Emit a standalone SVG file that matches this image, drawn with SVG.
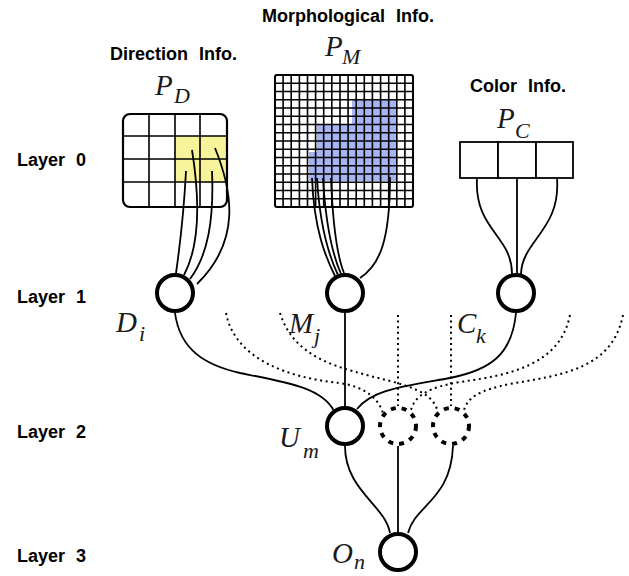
<svg xmlns="http://www.w3.org/2000/svg" width="629" height="576" viewBox="0 0 629 576">
<style>
.lbl{font-family:"Liberation Sans",Arial,sans-serif;font-weight:bold;font-size:18px;word-spacing:6px;fill:#000}
.m{font-family:"Liberation Serif","Times New Roman",serif;font-style:italic;font-size:29px;fill:#1a1a1a}
.s{font-family:"Liberation Serif","Times New Roman",serif;font-style:italic;font-size:22px;fill:#1a1a1a}
.node{fill:#fff;stroke:#000;stroke-width:4}
.dnode{fill:none;stroke:#000;stroke-width:4;stroke-dasharray:5 6}
.c{fill:none;stroke:#000;stroke-width:1.8}
.d{fill:none;stroke:#000;stroke-width:2;stroke-dasharray:2 3.6}
.g{fill:none;stroke:#000;stroke-width:1.6}
</style>
<rect width="629" height="576" fill="#fff"/>

<g id="layer-labels">
<text class="lbl" x="17" y="166">Layer 0</text>
<text class="lbl" x="17" y="303">Layer 1</text>
<text class="lbl" x="17" y="438">Layer 2</text>
<text class="lbl" x="17" y="562">Layer 3</text>
</g>

<g id="PD">
<text class="lbl" x="110" y="60">Direction Info.</text>
<text class="m" x="155" y="95">P</text><text class="s" x="174" y="103">D</text>
<rect x="175" y="136" width="52" height="46" fill="#f7f39a"/>
<rect x="123" y="114" width="104" height="93" rx="7" fill="none" stroke="#000" stroke-width="2.2"/>
<path class="g" d="M149,114V207M175,114V207M200,114V207M123,136H227M123,159H227M123,182H227" stroke-width="2"/>
</g>

<g id="PM">
<text class="lbl" x="262" y="22">Morphological Info.</text>
<text class="m" x="325" y="56">P</text><text class="s" x="342" y="64">M</text>
<path d="M352,100H396V181H309V152H317V125H352Z" fill="#a6b5f2"/>
<path class="g" d="M283.1,75V207M291.2,75V207M299.4,75V207M307.5,75V207M315.6,75V207M323.7,75V207M331.8,75V207M340,75V207M348.1,75V207M356.2,75V207M364.3,75V207M372.4,75V207M380.6,75V207M388.7,75V207M396.8,75V207M404.9,75V207M275,83.25H413M275,91.5H413M275,99.75H413M275,108H413M275,116.25H413M275,124.5H413M275,132.75H413M275,141H413M275,149.25H413M275,157.5H413M275,165.75H413M275,174H413M275,182.25H413M275,190.5H413M275,198.75H413"/>
<rect x="275" y="75" width="138" height="132" rx="2" fill="none" stroke="#000" stroke-width="2"/>
</g>

<g id="PC">
<text class="lbl" x="470" y="92">Color Info.</text>
<text class="m" x="497" y="128">P</text><text class="s" x="515" y="138">C</text>
<rect x="460" y="142" width="38" height="36" fill="#fff" stroke="#000" stroke-width="1.8"/>
<rect x="498" y="142" width="38" height="36" fill="#fff" stroke="#000" stroke-width="1.8"/>
<rect x="536" y="142" width="37" height="36" fill="#fff" stroke="#000" stroke-width="1.8"/>
</g>

<g id="connectors">
<path class="c" d="M186,171C184,210 180,245 176,273"/>
<path class="c" d="M192,150C200,200 200,245 184,275"/>
<path class="c" d="M212,171C214,220 208,255 190,279"/>
<path class="c" d="M215,148C232,190 242,240 197,284"/>
<path class="c" d="M312,178C314,230 326,258 335,276"/>
<path class="c" d="M317,178C320,230 330,258 338,275"/>
<path class="c" d="M323,178C326,230 334,258 341,274"/>
<path class="c" d="M331,178C333,230 338,258 344,273"/>
<path class="c" d="M390,177C390,240 380,265 360,278"/>
<path class="c" d="M477,178C474,230 512,235 512,274"/>
<path class="c" d="M517,178V273"/>
<path class="c" d="M557,178C561,230 522,240 521,274"/>
<path class="c" d="M175,313C180,350 205,365 240,373C290,383 322,388 334,411"/>
<path class="c" d="M345,313V406"/>
<path class="c" d="M516,313C512,355 490,370 450,378C400,387 372,390 357,409"/>
<path class="d" d="M226,313C235,360 290,378 340,383C365,387 378,398 383,413"/>
<path class="d" d="M280,313C295,360 340,368 390,381C420,389 432,396 437,409"/>
<path class="d" d="M398,315V406"/>
<path class="d" d="M451,315V406"/>
<path class="d" d="M570,315C560,365 510,375 460,382C430,387 415,395 411,410"/>
<path class="d" d="M623,315C612,370 560,375 510,384C480,390 468,397 464,410"/>
<path class="c" d="M345,446C345,490 385,505 390,533"/>
<path class="c" d="M398,446V532"/>
<path class="c" d="M453,446C451,500 415,505 408,533"/>
</g>

<g id="D"><circle class="node" cx="175" cy="293" r="18"/><text class="m" x="116" y="332">D</text><text class="s" x="139" y="341">i</text></g>
<g id="M"><circle class="node" cx="345" cy="293" r="18"/><text class="m" x="289" y="333">M</text><text class="s" x="314" y="343">j</text></g>
<g id="C"><circle class="node" cx="516" cy="293" r="18"/><text class="m" x="457" y="333">C</text><text class="s" x="476" y="343">k</text></g>
<g id="U"><circle class="node" cx="345" cy="426" r="18"/><text class="m" x="279" y="447">U</text><text class="s" x="303" y="458">m</text></g>
<g id="U2"><circle class="dnode" cx="398" cy="426" r="18"/></g>
<g id="U3"><circle class="dnode" cx="451" cy="426" r="18"/></g>
<g id="O"><circle class="node" cx="398" cy="552" r="18"/><text class="m" x="332" y="563">O</text><text class="s" x="354" y="569">n</text></g>
</svg>
